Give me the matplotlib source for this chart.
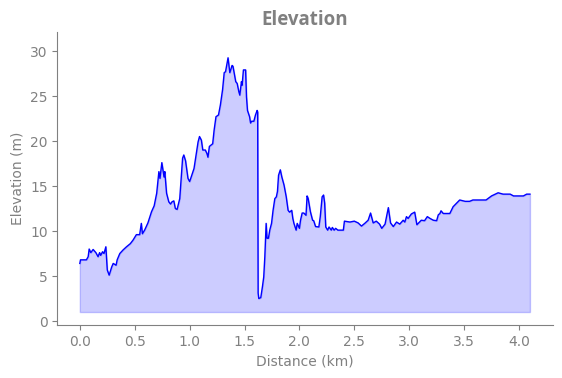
import numpy as np
import matplotlib
matplotlib.use("Agg")
import matplotlib.pyplot as plt

# distance (km) and elevation (m)
distance_km = [
    0.0, 0.006, 0.06, 0.076, 0.085, 0.10, 0.121, 0.146, 0.166, 0.18, 0.19, 0.207, 0.22, 0.237,
    0.25, 0.267, 0.29, 0.304, 0.33, 0.34, 0.364, 0.394, 0.425, 0.46, 0.485, 0.515, 0.545,
    0.56, 0.57, 0.59, 0.62, 0.653, 0.677, 0.70, 0.72, 0.73, 0.747, 0.767, 0.774, 0.79, 0.81,
    0.826, 0.84, 0.856, 0.87, 0.886, 0.91, 0.92, 0.936, 0.947, 0.963, 0.985, 1.0, 1.01, 1.03,
    1.04, 1.056, 1.077, 1.09, 1.107, 1.12, 1.143, 1.158, 1.167, 1.18, 1.21, 1.223, 1.24,
    1.263, 1.28, 1.30, 1.315, 1.327, 1.35, 1.366, 1.387, 1.395, 1.42, 1.433, 1.448, 1.457,
    1.472, 1.478, 1.49, 1.51, 1.518, 1.527, 1.546, 1.555, 1.565, 1.585, 1.60, 1.615, 1.62,
    1.624, 1.63, 1.648, 1.663, 1.675, 1.685, 1.697, 1.705, 1.718, 1.73, 1.746, 1.76, 1.776,
    1.79, 1.80, 1.81, 1.826, 1.84, 1.86, 1.88, 1.897, 1.91, 1.93, 1.94, 1.95, 1.97, 1.98,
    2.0, 2.01, 2.025, 2.04, 2.06, 2.07, 2.08, 2.10, 2.12, 2.13, 2.147, 2.177, 2.19, 2.207,
    2.22, 2.23, 2.24, 2.257, 2.27, 2.29, 2.30, 2.316, 2.33, 2.35, 2.40, 2.41, 2.46, 2.50,
    2.535, 2.565, 2.595, 2.626, 2.648, 2.672, 2.70, 2.73, 2.75, 2.78, 2.81, 2.83, 2.855,
    2.885, 2.914, 2.945, 2.96, 2.975, 2.99, 3.02, 3.05, 3.07, 3.11, 3.14, 3.165, 3.19, 3.22,
    3.25, 3.265, 3.28, 3.29, 3.31, 3.37, 3.40, 3.46, 3.51, 3.55, 3.58, 3.70, 3.75, 3.81,
    3.855, 3.92, 3.95, 4.04, 4.07, 4.10,
]
elevation_m = [
    6.4, 6.8, 6.8, 7.15, 8.0, 7.6, 7.95, 7.6, 7.15, 7.6, 7.3, 7.7, 7.5, 8.25,
    5.67, 5.1, 6.0, 6.4, 6.2, 6.8, 7.5, 7.9, 8.25, 8.6, 9.0, 9.6, 9.6,
    10.85, 9.7, 10.1, 10.9, 12.15, 12.8, 14.2, 16.6, 15.85, 17.6, 16.0, 16.6, 14.2, 13.25,
    13.0, 13.25, 13.35, 12.5, 12.4, 13.6, 15.3, 18.1, 18.45, 17.8, 15.85, 15.5, 15.85, 16.6,
    16.95, 18.25, 19.9, 20.5, 20.1, 19.0, 19.0, 18.6, 18.2, 19.4, 19.7, 21.2, 22.7,
    22.9, 24.0, 25.7, 27.6, 27.7, 29.25, 27.6, 28.4, 28.3, 26.6, 26.4, 25.5, 25.1,
    26.6, 26.2, 27.9, 27.9, 24.9, 23.4, 22.7, 22.0, 22.2, 22.2, 22.9, 23.4, 23.2,
    3.1, 2.5, 2.6, 3.8, 4.9, 7.15, 10.85, 9.2, 9.2, 10.1, 10.85, 12.3, 13.6,
    13.8, 14.4, 16.2, 16.8, 16.0, 15.1, 13.8, 12.3, 12.1, 12.3, 11.4, 10.85, 10.1, 10.85,
    10.3, 11.2, 12.0, 12.0, 11.75, 13.9, 13.6, 12.15, 11.2, 11.15, 10.5, 10.45, 11.6, 13.8,
    14.0, 13.1, 10.45, 10.1, 10.45, 10.1, 10.4, 10.1, 10.3, 10.1, 10.1, 11.1, 11.0, 11.1,
    10.9, 10.55, 10.85, 11.2, 12.0, 10.9, 11.1, 10.77, 10.3, 10.77, 12.6, 10.9, 10.5,
    11.0, 10.77, 11.2, 11.0, 11.6, 11.4, 11.9, 12.1, 10.7, 11.2, 11.15, 11.6, 11.4, 11.2,
    11.15, 11.8, 11.95, 12.25, 11.95, 11.95, 12.7, 13.45, 13.3, 13.3, 13.45, 13.45, 13.9, 14.25,
    14.1, 14.1, 13.9, 13.9, 14.1, 14.1,
]
fill_base = 1.0

grey = "#808080"

fig = plt.figure(figsize=(5.62, 3.78), dpi=100)
ax = fig.add_axes([0.102, 0.140, 0.882, 0.775])

ax.plot(distance_km, elevation_m, color="blue", linewidth=1.0)
ax.fill_between(distance_km, elevation_m, fill_base, color="blue", alpha=0.2)

ax.set_xlim(-0.205, 4.31)
ax.set_ylim(-0.45, 32.1)
ax.set_xticks(np.arange(0, 4.01, 0.5))
ax.set_yticks(np.arange(0, 31, 5))

ax.set_title("Elevation", color=grey, fontsize=13.5, fontweight="bold",
             family=["Open Sans", "DejaVu Sans"], pad=5)
ax.set_xlabel("Distance (km)", color=grey, fontsize=10)
ax.set_ylabel("Elevation (m)", color=grey, fontsize=10)

for side in ["top", "right"]:
    ax.spines[side].set_visible(False)
for side in ["left", "bottom"]:
    ax.spines[side].set_color(grey)
ax.tick_params(colors=grey, labelsize=10)

fig.savefig("out.png", dpi=100)
